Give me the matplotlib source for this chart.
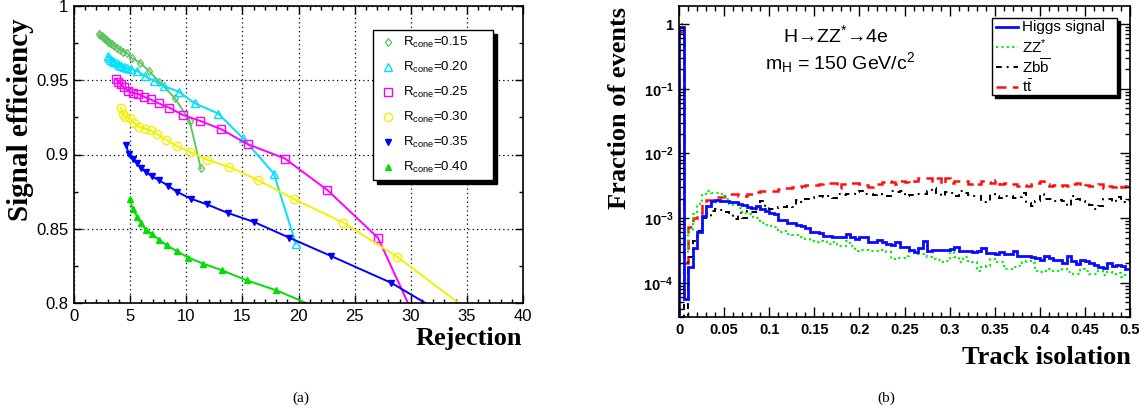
import numpy as np
import matplotlib
matplotlib.use("Agg")
import matplotlib.pyplot as plt
from matplotlib.patches import Rectangle
from matplotlib.lines import Line2D
from matplotlib.ticker import MultipleLocator, LogLocator, NullFormatter, FixedLocator

plt.rcParams['font.family'] = ['Liberation Sans', 'DejaVu Sans']
plt.rcParams['mathtext.fontset'] = 'custom'
plt.rcParams['mathtext.rm'] = 'Liberation Sans'
plt.rcParams['mathtext.it'] = 'Liberation Sans:italic'
plt.rcParams['mathtext.bf'] = 'Liberation Sans:bold'

# ---------------- (a) efficiency vs rejection for several cone sizes ----------------
cone_labels = ["0.15", "0.20", "0.25", "0.30", "0.35", "0.40"]

rej_015 = [2.26, 2.35, 2.45, 2.55, 2.65, 2.75, 2.9, 3.05, 3.2, 3.4, 3.6, 3.85, 4.1, 4.4,
           4.7, 5.2, 5.9, 6.7, 7.6, 9.0, 10.3, 11.3]
eff_015 = [0.981, 0.9803, 0.9797, 0.979, 0.9783, 0.9776, 0.9768, 0.976, 0.9752, 0.9742,
           0.9731, 0.9718, 0.9705, 0.9692, 0.9685, 0.9647, 0.9618, 0.956, 0.949, 0.9378,
           0.9227, 0.8906]

rej_020 = [3.0, 3.15, 3.3, 3.45, 3.6, 3.8, 4.0, 4.2, 4.45, 4.75, 5.1, 5.64, 6.32, 7.12,
           8.01, 9.35, 10.77, 12.85, 15.07, 17.8, 19.76]
eff_020 = [0.966, 0.9648, 0.9638, 0.963, 0.9622, 0.9613, 0.9605, 0.9598, 0.959, 0.958,
           0.9575, 0.9562, 0.9528, 0.9497, 0.9461, 0.9422, 0.9344, 0.9276, 0.9108, 0.8872,
           0.84]

rej_025 = [3.74, 3.95, 4.18, 4.45, 4.84, 5.22, 5.73, 6.23, 6.82, 7.57, 8.49, 9.73, 11.22,
           13.09, 15.46, 18.78, 22.58, 27.09, 30.3]
eff_025 = [0.9508, 0.949, 0.9474, 0.9452, 0.9429, 0.9416, 0.9407, 0.9389, 0.9371, 0.9344,
           0.9315, 0.9265, 0.9227, 0.9171, 0.907, 0.8973, 0.876, 0.8438, 0.791]

rej_030 = [4.18, 4.33, 4.57, 4.99, 5.34, 5.79, 6.29, 6.82, 7.42, 8.19, 9.14, 10.33, 11.81,
           13.83, 16.41, 19.61, 23.98, 28.81, 35.5]
eff_030 = [0.9315, 0.9276, 0.9254, 0.9243, 0.9213, 0.9187, 0.9175, 0.9164, 0.9135, 0.9101,
           0.9058, 0.9018, 0.8966, 0.8917, 0.8827, 0.8699, 0.8542, 0.831, 0.793]

rej_035 = [4.63, 4.9, 5.22, 5.58, 5.93, 6.41, 6.91, 7.57, 8.4, 9.2, 10.39, 11.81, 13.68,
           16.02, 19.14, 22.88, 28.28, 33.0]
eff_035 = [0.9063, 0.9002, 0.8973, 0.8946, 0.891, 0.8883, 0.8854, 0.8827, 0.8789, 0.8748,
           0.8703, 0.8665, 0.8607, 0.8546, 0.8441, 0.8317, 0.8135, 0.7924]

rej_040 = [4.98, 5.22, 5.64, 5.96, 6.41, 6.91, 7.57, 8.25, 9.14, 10.18, 11.51, 13.2, 15.37,
           18.04, 22.0]
eff_040 = [0.8699, 0.8636, 0.858, 0.8539, 0.8494, 0.8467, 0.8427, 0.8389, 0.835, 0.8306,
           0.8265, 0.822, 0.8153, 0.8085, 0.7958]

# ---------------- (b) track isolation distributions (100 bins, 0 - 0.5) ----------------
iso_min, iso_max, n_bins = 0.0, 0.5, 100

higgs = [0.9, 5.6e-5, 1.75e-4, 3.5e-4, 6.0e-4, 1.08e-3, 1.55e-3, 1.85e-3, 1.88e-3, 1.85e-3,
         1.82e-3, 1.8e-3, 1.75e-3, 1.68e-3, 1.6e-3, 1.5e-3, 1.42e-3, 1.52e-3, 1.38e-3, 1.27e-3,
         1.18e-3, 1.15e-3, 9.3e-4, 9.3e-4, 8.5e-4, 8.5e-4, 7.9e-4, 7.6e-4, 7.0e-4, 6.2e-4,
         6.2e-4, 5.8e-4, 5.33e-4, 5.33e-4, 5.14e-4, 5.14e-4, 5.02e-4, 5.66e-4, 5.14e-4, 4.73e-4,
         5.02e-4, 5.02e-4, 4.3e-4, 4.3e-4, 4.57e-4, 4.2e-4, 3.96e-4, 3.87e-4, 4.3e-4, 3.6e-4,
         3.6e-4, 3.2e-4, 2.95e-4, 3.44e-4, 4.36e-4, 3.13e-4, 3.24e-4, 3.24e-4, 3.2e-4, 3.2e-4,
         3.32e-4, 3.6e-4, 3.13e-4, 3.13e-4, 3.05e-4, 2.95e-4, 3.13e-4, 3.4e-4, 2.84e-4, 2.84e-4,
         2.78e-4, 3.0e-4, 2.78e-4, 2.78e-4, 3.05e-4, 2.62e-4, 2.62e-4, 2.62e-4, 2.53e-4, 2.4e-4,
         2.25e-4, 2.62e-4, 2.4e-4, 2.25e-4, 2.25e-4, 2.0e-4, 2.57e-4, 2.19e-4, 1.95e-4, 2.25e-4,
         2.15e-4, 2.0e-4, 1.9e-4, 1.73e-4, 1.7e-4, 2.0e-4, 1.8e-4, 1.9e-4, 1.85e-4, 1.65e-4]

zz = [1.0, 2.8e-4, 6.4e-4, 1.15e-3, 1.64e-3, 2.34e-3, 2.64e-3, 2.48e-3, 2.45e-3, 2.4e-3,
      2.0e-3, 1.64e-3, 1.58e-3, 1.42e-3, 1.2e-3, 1.15e-3, 1.03e-3, 9.9e-4, 8.5e-4, 7.9e-4,
      7.6e-4, 7.3e-4, 6.0e-4, 6.4e-4, 5.66e-4, 5.4e-4, 5.4e-4, 5.1e-4, 4.8e-4, 4.46e-4,
      4.2e-4, 4.5e-4, 4.2e-4, 3.96e-4, 4.2e-4, 3.74e-4, 3.74e-4, 4.46e-4, 3.74e-4, 3.13e-4,
      3.2e-4, 3.2e-4, 3.13e-4, 3.13e-4, 3.13e-4, 3.2e-4, 2.95e-4, 2.33e-4, 2.4e-4, 2.4e-4,
      2.62e-4, 2.95e-4, 2.95e-4, 2.78e-4, 2.78e-4, 2.47e-4, 2.33e-4, 2.25e-4, 2.07e-4, 2.19e-4,
      2.95e-4, 2.47e-4, 2.07e-4, 2.47e-4, 2.19e-4, 2.07e-4, 1.54e-4, 1.73e-4, 1.84e-4, 2.33e-4,
      2.07e-4, 2.07e-4, 1.63e-4, 1.63e-4, 1.73e-4, 1.79e-4, 2.07e-4, 2.19e-4, 2.0e-4, 1.54e-4,
      1.45e-4, 1.54e-4, 1.63e-4, 1.54e-4, 1.54e-4, 1.63e-4, 1.45e-4, 1.37e-4, 1.37e-4, 1.63e-4,
      1.54e-4, 1.37e-4, 1.37e-4, 1.54e-4, 1.3e-4, 1.45e-4, 1.35e-4, 1.4e-4, 1.25e-4, 1.3e-4]

zbb = [0.88, 2.5e-5, 2.5e-4, 4.5e-4, 6.4e-4, 1.0e-3, 1.05e-3, 1.3e-3, 1.4e-3, 1.35e-3,
       1.25e-3, 1.15e-3, 9.7e-4, 1.2e-3, 1.0e-3, 1.3e-3, 1.25e-3, 1.4e-3, 1.85e-3, 1.5e-3,
       1.4e-3, 1.45e-3, 1.5e-3, 1.5e-3, 1.55e-3, 1.46e-3, 1.9e-3, 1.75e-3, 2.0e-3, 2.08e-3,
       2.2e-3, 2.21e-3, 2.15e-3, 2.2e-3, 2.08e-3, 2.34e-3, 2.3e-3, 2.34e-3, 2.4e-3, 2.55e-3,
       2.64e-3, 2.4e-3, 2.34e-3, 2.3e-3, 2.4e-3, 2.21e-3, 2.2e-3, 2.64e-3, 2.5e-3, 2.64e-3,
       2.2e-3, 2.3e-3, 2.34e-3, 2.4e-3, 2.34e-3, 2.64e-3, 2.96e-3, 2.48e-3, 2.2e-3, 2.5e-3,
       2.48e-3, 2.2e-3, 2.64e-3, 2.48e-3, 2.3e-3, 2.21e-3, 2.21e-3, 1.8e-3, 1.85e-3, 2.34e-3,
       2.21e-3, 2.08e-3, 2.2e-3, 2.21e-3, 2.08e-3, 2.1e-3, 2.48e-3, 1.74e-3, 1.55e-3, 1.85e-3,
       2.34e-3, 2.0e-3, 1.96e-3, 1.85e-3, 1.9e-3, 1.85e-3, 1.55e-3, 2.21e-3, 1.96e-3, 1.85e-3,
       1.74e-3, 1.6e-3, 1.38e-3, 1.55e-3, 1.96e-3, 2.0e-3, 1.8e-3, 2.1e-3, 1.75e-3, 1.9e-3]

ttbar = [0.75, 2.0e-4, 7.2e-4, 1.02e-3, 1.22e-3, 1.74e-3, 1.9e-3, 1.9e-3, 2.1e-3, 2.1e-3,
         2.2e-3, 2.4e-3, 2.4e-3, 2.2e-3, 2.2e-3, 2.4e-3, 2.4e-3, 2.5e-3, 2.64e-3, 2.64e-3,
         2.6e-3, 2.64e-3, 2.8e-3, 2.97e-3, 2.9e-3, 3.04e-3, 3.0e-3, 3.1e-3, 3.2e-3, 3.3e-3,
         3.3e-3, 3.35e-3, 3.55e-3, 3.55e-3, 3.55e-3, 2.97e-3, 3.35e-3, 3.4e-3, 3.55e-3, 3.45e-3,
         3.35e-3, 3.3e-3, 3.04e-3, 3.15e-3, 3.35e-3, 3.6e-3, 3.77e-3, 3.6e-3, 3.35e-3, 3.77e-3,
         3.6e-3, 3.45e-3, 3.8e-3, 4.24e-3, 4.1e-3, 4.24e-3, 3.77e-3, 4.24e-3, 3.35e-3, 4.24e-3,
         3.55e-3, 3.77e-3, 3.77e-3, 3.77e-3, 3.35e-3, 3.5e-3, 3.35e-3, 3.77e-3, 3.6e-3, 3.55e-3,
         3.9e-3, 3.35e-3, 3.5e-3, 3.35e-3, 3.35e-3, 3.15e-3, 3.3e-3, 3.15e-3, 3.4e-3, 3.55e-3,
         3.77e-3, 3.35e-3, 3.15e-3, 3.3e-3, 3.15e-3, 3.3e-3, 3.15e-3, 3.4e-3, 3.55e-3, 3.15e-3,
         3.3e-3, 3.15e-3, 3.3e-3, 3.35e-3, 2.97e-3, 3.1e-3, 3.0e-3, 3.2e-3, 3.05e-3, 3.15e-3]

# ---------------- figure layout (pixel helpers) ----------------
W, H = 1145, 412
fig = plt.figure(figsize=(W / 100, H / 100), dpi=100)


def fx(x):
    return x / W


def fy(y):
    return 1 - y / H


serif_bold = dict(family=['Liberation Serif', 'DejaVu Serif'], weight='bold')

# ===================== panel (a) =====================
axL = fig.add_axes([fx(74), fy(303), (523 - 74) / W, (303 - 6) / H])

series = [
    (rej_015, eff_015, dict(color='#5cc25c', marker='d', mfc='none', ms=4.5, mew=0.9, lw=1.3)),
    (rej_020, eff_020, dict(color='#00e0ff', marker='^', mfc='none', ms=6, mew=1.0, lw=1.4)),
    (rej_025, eff_025, dict(color='#ff00ff', marker='s', mfc='none', ms=6, mew=1.0, lw=1.4)),
    (rej_030, eff_030, dict(color='#f2f200', marker='o', mfc='none', ms=6, mew=1.0, lw=1.4)),
    (rej_035, eff_035, dict(color='#0000ff', marker='v', ms=5, lw=1.4)),
    (rej_040, eff_040, dict(color='#00e000', marker='^', ms=5, lw=1.4)),
]
for xs, ys, st in series:
    axL.plot(xs, ys, **st)

axL.set_xlim(0, 40)
axL.set_ylim(0.8, 1.0)
axL.xaxis.set_major_locator(MultipleLocator(5))
axL.xaxis.set_minor_locator(MultipleLocator(1))
axL.set_yticks([0.8, 0.85, 0.9, 0.95, 1.0], ["0.8", "0.85", "0.9", "0.95", "1"])
axL.yaxis.set_minor_locator(MultipleLocator(0.025))
axL.grid(True, which='major', color='k', linestyle=(0, (1, 2.5)), linewidth=0.9)
axL.tick_params(which='both', direction='in', top=True, right=True, labelsize=12, width=1)
axL.tick_params(which='major', length=6, pad=4)
axL.tick_params(which='minor', length=3)
for s in axL.spines.values():
    s.set_linewidth(1.2)

fig.text(fx(21), fy(120), "Signal efficiency", rotation=90, ha='center', va='center',
         fontsize=21, **serif_bold)
fig.text(fx(522), fy(339), "Rejection", ha='right', va='center', fontsize=19, **serif_bold)

# legend with drop shadow
fig.add_artist(Rectangle((fx(377), fy(184)), (493 - 373) / W, (180 - 30) / H,
                         transform=fig.transFigure, facecolor='k', edgecolor='k'))
fig.add_artist(Rectangle((fx(373), fy(180)), (493 - 373) / W, (180 - 30) / H,
                         transform=fig.transFigure, facecolor='white', edgecolor='k', lw=1.0))
for i, (lab, (_, _, st)) in enumerate(zip(cone_labels, series)):
    yy = 42 + 25 * i
    mk = {k: v for k, v in st.items() if k not in ('lw',)}
    fig.add_artist(Line2D([fx(388)], [fy(yy)], transform=fig.transFigure, linestyle='none', **mk))
    fig.text(fx(403), fy(yy), r"R$_{\rm cone}$=" + lab, ha='left', va='center', fontsize=9.5)

fig.text(fx(301), fy(398), "(a)", ha='center', va='center', fontsize=11,
         family=['Liberation Serif', 'DejaVu Serif'])

# ===================== panel (b) =====================
axR = fig.add_axes([fx(679), fy(317), (1130 - 679) / W, (317 - 6) / H])
edges = np.linspace(iso_min, iso_max, n_bins + 1)
base = 1e-6
axR.stairs(ttbar, edges, baseline=base, color='#ff1010', lw=1.8, linestyle=(0, (4, 2.5)))
axR.stairs(zbb, edges, baseline=base, color='k', lw=1.4, linestyle=(0, (3, 2.5, 1, 2.5)))
axR.stairs(zz, edges, baseline=base, color='#00ee00', lw=1.5, linestyle=(0, (1, 1.6)))
axR.stairs(higgs, edges, baseline=base, color='#0a0aff', lw=2.0)

axR.set_yscale('log')
axR.set_xlim(0, 0.5)
axR.set_ylim(2.96e-5, 1.9)
axR.xaxis.set_minor_locator(MultipleLocator(0.01))
axR.set_xticks([0, 0.05, 0.1, 0.15, 0.2, 0.25, 0.3, 0.35, 0.4, 0.45, 0.5],
               ["0", "0.05", "0.1", "0.15", "0.2", "0.25", "0.3", "0.35", "0.4", "0.45", "0.5"])
axR.yaxis.set_major_locator(FixedLocator([1e-4, 1e-3, 1e-2, 1e-1, 1]))
axR.set_yticklabels([r"$\mathbf{10^{-4}}$", r"$\mathbf{10^{-3}}$", r"$\mathbf{10^{-2}}$",
                     r"$\mathbf{10^{-1}}$", "1"])
axR.yaxis.set_minor_locator(LogLocator(base=10, subs=np.arange(2, 10)))
axR.yaxis.set_minor_formatter(NullFormatter())
axR.tick_params(which='both', direction='in', top=True, right=True, width=1)
axR.tick_params(which='major', length=7, pad=4, labelsize=10.5)
axR.tick_params(which='minor', length=3.5)
for lab in axR.get_xticklabels() + axR.get_yticklabels():
    lab.set_fontweight('bold')
for s in axR.spines.values():
    s.set_linewidth(1.2)

fig.text(fx(620), fy(7), "Fraction of events", rotation=90, ha='center', va='top',
         fontsize=19, **serif_bold)
fig.text(fx(1131), fy(357), "Track isolation", ha='right', va='center', fontsize=19, **serif_bold)

fig.text(fx(836), fy(35), r"H→ZZ$^{*}$→4e", ha='center', va='center', fontsize=14)
fig.text(fx(840), fy(63), r"m$_{\rm H}$ = 150 GeV/c$^{2}$", ha='center', va='center', fontsize=14)

# legend with drop shadow
fig.add_artist(Rectangle((fx(995), fy(98)), (1117 - 992) / W, (95 - 18) / H,
                         transform=fig.transFigure, facecolor='k', edgecolor='k'))
fig.add_artist(Rectangle((fx(992), fy(95)), (1117 - 992) / W, (95 - 18) / H,
                         transform=fig.transFigure, facecolor='white', edgecolor='k', lw=1.0))
leg_entries = [
    ("Higgs signal", dict(color='#0a0aff', lw=2.0)),
    (r"ZZ$^{*}$", dict(color='#00ee00', lw=1.5, linestyle=(0, (1, 1.6)))),
    (r"Zb$\overline{\rm b}$", dict(color='k', lw=1.4, linestyle=(0, (3, 2.5, 1, 2.5)))),
    (r"t$\bar{\rm t}$", dict(color='#ff1010', lw=1.8, linestyle=(0, (4, 2.5)))),
]
for i, (lab, st) in enumerate(leg_entries):
    yy = 27 + 20 * i
    fig.add_artist(Line2D([fx(996), fx(1018)], [fy(yy), fy(yy)], transform=fig.transFigure, **st))
    fig.text(fx(1022), fy(yy), lab, ha='left', va='center', fontsize=11)

fig.text(fx(886), fy(398), "(b)", ha='center', va='center', fontsize=11,
         family=['Liberation Serif', 'DejaVu Serif'])

fig.savefig("out.png", dpi=100)
